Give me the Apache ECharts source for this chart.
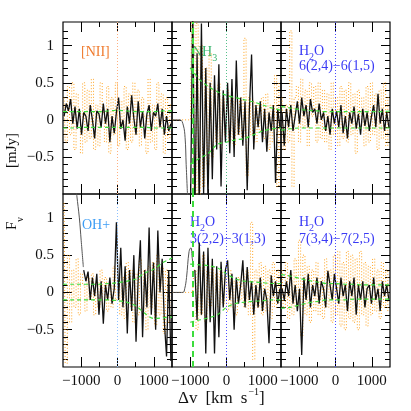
<!DOCTYPE html>
<html>
<head>
<meta charset="utf-8">
<script src="https://cdn.jsdelivr.net/npm/echarts@6/dist/echarts.min.js"></script>
<style>
  html, body { margin: 0; padding: 0; background: #fff; }
  #chart { width: 411px; height: 411px; }
</style>
</head>
<body>
<div id="chart"></div>
<script>
// channel velocities (km/s) shared by every spectrum
const vel = [-1470, -1410, -1350, -1290, -1230, -1170, -1110, -1050, -990, -930,
  -870, -810, -750, -690, -630, -570, -510, -450, -390, -330,
  -270, -210, -150, -90, -30, 30, 90, 150, 210, 270,
  330, 390, 450, 510, 570, 630, 690, 750, 810, 870,
  930, 990, 1050, 1110, 1170, 1230, 1290, 1350, 1410, 1470]
// velocities of the noise envelope (green dashed)
const envVel = [-1500, -1250, -1000, -750, -500, -250, 0, 250, 500, 750, 1000, 1250, 1500]

// [NII] panel
const niiBlack = [0.05, 0.22, 0.12, 0.28, -0.05, 0.18, -0.12, 0.15, -0.2, 0.1,
  0.05, -0.15, 0.2, 0.0, -0.25, 0.12, 0.08, -0.1, 0.22, -0.05,
  0.15, -0.3, 0.05, -0.18, 0.1, 0.3, -0.12, 0.0, -0.28, 0.18,
  -0.05, 0.33, 0.02, -0.2, 0.25, -0.1, 0.12, -0.25, 0.08, 0.2,
  -0.15, 0.1, 0.05, 0.22, -0.1, 0.15, -0.2, 0.05, -0.15, -0.05]
const niiOrange = [0.3, -0.3, 0.45, -0.2, 0.5, -0.4, 0.35, 0.1, -0.45, 0.5,
  -0.3, 0.4, -0.25, 0.55, -0.4, 0.2, -0.35, 0.5, 0.1, -0.3,
  0.45, -0.45, 0.3, -0.2, 0.5, -0.35, 0.25, -0.1, 0.45, -0.4,
  0.35, -0.3, 0.5, -0.2, 0.4, -0.35, 0.3, 0.05, -0.45, 0.55,
  -0.3, 0.2, -0.4, 0.5, -0.1, 0.35, -0.45, 0.3, -0.25, 0.2]
const niiEnvUp = [0.11, 0.11, 0.11, 0.11, 0.11, 0.12, 0.13, 0.12, 0.11, 0.11, 0.11, 0.12, 0.12]
const niiEnvLow = [-0.11, -0.11, -0.1, -0.1, -0.1, -0.1, -0.1, -0.1, -0.1, -0.1, -0.11, -0.11, -0.11]

// NH3 panel
const nh3Black = [null, null, null, null, null, null, null, null, -1.2, 1.5,
  -1.3, 0.9, -1.2, 1.3, -1.0, 0.7, -1.1, 0.5, -0.8, 0.6,
  -0.4, 0.75, -0.9, 0.4, -0.3, 0.5, -0.45, 0.55, -0.5, 0.8,
  -0.2, 0.3, -0.35, 0.25, -0.95, 0.15, 0.88, -0.4, 0.2, -0.1,
  0.25, -0.3, 0.15, -0.43, 0.1, -0.15, 0.2, -0.85, 0.15, -0.1]
const nh3Orange = [0, 0, 0, 0, 0, 0, 0, 0, 0, 1.4,
  -1.2, 1.3, -1.1, 1.0, -0.9, 0.7, -0.6, 0.9, -0.5, 0.4,
  -0.3, 0.5, -0.4, 0.3, -0.2, 0.4, -0.3, 0.3, -0.35, 0.25,
  -0.2, 0.3, -0.25, 1.1, -0.75, 0.3, -0.2, 0.25, -0.3, 0.2,
  -0.15, 0.3, -0.25, 0.35, -0.4, 0.2, -0.3, 0.6, -0.9, 0.5]
const nh3EnvUp = [null, null, 0.7, 0.55, 0.45, 0.38, 0.33, 0.3, 0.27, 0.24, 0.2, 0.16, 0.13]
const nh3EnvLow = [null, null, -0.6, -0.52, -0.45, -0.33, -0.3, -0.27, -0.25, -0.2, -0.15, -0.12, -0.11]
const nh3ModelVel = [-1500, -1280, -1190, -1140, -1110, -1070]
const nh3Model = [0, 0, -0.07, -0.24, -0.6, -1.05]

// H2O 6(2,4)-6(1,5) panel
const h2oABlack = [0.1, -0.35, 0.15, -0.1, 0.2, -0.15, 0.05, 0.25, -0.05, 0.3,
  0.05, 0.2, -0.1, 0.28, 0.1, 0.15, -0.05, 0.22, 0.0, 0.1,
  -0.15, 0.05, -0.2, 0.15, -0.05, 0.12, -0.1, 0.2, -0.18, 0.05,
  -0.25, 0.1, -0.05, 0.18, -0.12, 0.08, -0.2, 0.15, -0.08, 0.1,
  -0.15, 0.05, 0.2, -0.1, 0.35, -0.05, 0.15, -0.15, 0.1, -0.1]
const h2oAOrange = [0.3, -0.4, 0.2, -0.3, 1.2, -0.9, 0.3, 0.45, -0.3, 0.55,
  -0.1, 0.4, -0.35, 0.5, 0.05, 0.45, -0.3, 0.5, -0.25, 0.4,
  -0.3, 0.35, -0.4, 0.5, -0.2, 0.3, -0.35, 0.45, -0.25, 0.4,
  -0.3, 0.5, -0.2, 0.35, -0.45, 0.4, -0.1, 0.3, -0.35, 0.45,
  -0.3, 0.5, -0.2, 0.35, -0.4, 0.4, -0.25, 0.5, -0.35, 0.3]
const h2oAEnvUp = [0.18, 0.16, 0.14, 0.13, 0.12, 0.11, 0.11, 0.11, 0.11, 0.11, 0.11, 0.11, 0.12]
const h2oAEnvLow = [-0.14, -0.12, -0.11, -0.11, -0.11, -0.11, -0.11, -0.11, -0.11, -0.11, -0.11, -0.11, -0.11]

// OH+ panel
const ohBlack = [null, null, null, null, null, null, null, null, null, 0.3,
  0.15, 0.28, -0.1, 0.2, -0.05, 0.25, -0.3, 0.15, -0.42, 0.1,
  -0.1, 0.2, -0.15, 0.05, 0.94, -0.1, 0.6, -0.2, 0.35, -0.55,
  0.3, -0.25, 0.5, -0.66, 0.2, 0.7, -0.6, 0.3, -0.2, 0.87,
  -0.3, 0.4, -0.5, 0.83, 0.0, 0.45, -0.4, -0.86, 0.3, -0.92]
const ohOrange = [1.2, -0.95, 0.5, -0.4, 0.3, -0.2, 0.45, -0.3, 0.25, 0.1,
  -0.25, 0.2, -0.1, 0.25, -0.3, 0.15, -0.2, 0.3, -0.15, 0.2,
  -0.25, 0.1, -0.2, 0.35, -0.1, 0.25, -0.3, 0.2, -0.35, 0.4,
  -0.2, 0.3, -0.4, 0.25, -0.3, 0.45, -0.25, 0.3, -0.5, 0.35,
  -0.2, 0.4, -0.45, 0.5, -0.3, 0.35, -0.55, 0.3, -0.4, 0.2]
const ohEnvUp = [0.11, 0.11, 0.11, 0.11, 0.11, 0.12, 0.13, 0.15, 0.18, 0.26, 0.31, 0.4, 0.46]
const ohEnvLow = [-0.1, -0.1, -0.1, -0.1, -0.1, -0.1, -0.11, -0.13, -0.18, -0.28, -0.35, -0.34, -0.33]
const ohModelVel = [-1140, -1120, -1050, -1000, -940]
const ohModel = [1.4, 1.3, 1.0, 0.7, 0.34]

// H2O 3(2,2)-3(1,3) panel
const h2oBBlack = [null, null, null, null, null, null, null, null, null, null,
  0.3, -0.37, 0.67, -0.3, 0.55, -0.82, 0.6, -0.4, 0.45, -0.82,
  0.35, -0.6, 0.41, -0.2, 0.3, 0.43, -0.1, 0.25, -0.5, 0.2,
  -0.15, 0.1, 0.43, -0.2, 0.34, -0.1, 0.15, -0.3, 0.1, -0.2,
  0.2, -0.25, 0.05, -0.1, -0.68, 0.23, -0.05, 0.15, -0.15, 0.05]
const h2oBOrange = [0, 0, 0, 0, 0, 0, 0, 0, 0, 0,
  0.3, -0.5, 0.4, -0.3, 0.5, -0.4, 0.3, -0.2, 0.35, -0.3,
  0.25, -0.2, 0.3, -0.15, 0.2, -0.25, 0.3, -0.2, 0.15, -0.3,
  0.2, -0.1, 0.25, -0.2, 0.3, -0.3, 0.94, -0.9, 0.3, -0.2,
  0.4, -0.3, 0.35, -0.25, 0.3, -0.35, 0.4, -0.2, 0.3, -0.15]
const h2oBEnvUp = [null, null, 0.38, 0.37, 0.36, 0.33, 0.25, 0.18, 0.15, 0.14, 0.13, 0.12, 0.12]
const h2oBEnvLow = [null, null, -0.4, -0.37, -0.34, -0.3, -0.2, -0.15, -0.13, -0.12, -0.11, -0.1, -0.1]
const h2oBModelVel = [-1500, -1200, -1150, -1100, -1030, -980, -940, -910]
const h2oBModel = [0, 0, 0.05, 0.2, 0.55, 0.6, 0.45, 0.35]

// H2O 7(3,4)-7(2,5) panel
const h2oCBlack = [0.05, -0.1, 0.15, -0.05, 0.3, -0.15, 0.1, -0.25, 0.05, -0.84,
  0.2, -0.1, 0.25, -0.2, 0.1, -0.05, 0.2, -0.15, 0.15, 0.05,
  -0.2, 0.29, 0.1, -0.1, 0.25, 0.05, -0.15, 0.2, -0.05, 0.1,
  -0.25, 0.15, -0.05, 0.2, -0.3, 0.1, -0.1, 0.15, -0.2, 0.05,
  0.1, -0.15, 0.2, -0.1, 0.05, -0.25, 0.15, -0.05, 0.1, -0.1]
const h2oCOrange = [0.3, -0.2, 0.4, -0.35, 0.25, -0.3, 0.45, -0.2, 0.7, -0.6,
  0.5, -0.3, 0.35, -0.4, 0.3, -0.25, 0.4, -0.3, 0.2, -0.35,
  0.45, -0.2, 0.3, -0.4, 0.5, -0.3, 0.55, -0.45, 0.4, -0.5,
  0.55, -0.35, 0.5, -0.4, 0.45, -0.5, 0.55, -0.3, 0.4, -0.45,
  0.35, -0.3, 0.45, -0.25, 0.3, -0.35, 0.4, -0.2, 0.3, -0.25]
const h2oCEnvUp = [0.24, 0.22, 0.19, 0.16, 0.14, 0.12, 0.12, 0.11, 0.11, 0.1, 0.1, 0.1, 0.1]
const h2oCEnvLow = [-0.21, -0.2, -0.17, -0.14, -0.12, -0.1, -0.1, -0.1, -0.09, -0.09, -0.09, -0.09, -0.09]

// tick positions
const xMajor = [-1000, 0, 1000]
const xMinor = [-500, 500]
const yMajor = [-0.5, 0, 0.5, 1]
const yMinor = [-0.9, -0.8, -0.7, -0.6, -0.4, -0.3, -0.2, -0.1, 0.1, 0.2, 0.3, 0.4, 0.6, 0.7, 0.8, 0.9, 1.1, 1.2]

const panels = [
  { black: niiBlack, orange: niiOrange, up: niiEnvUp, low: niiEnvLow, zeroColor: '#ffb080' },
  { black: nh3Black, orange: nh3Orange, up: nh3EnvUp, low: nh3EnvLow, zeroColor: '#55c08a', modelVel: nh3ModelVel, model: nh3Model, feature: -940 },
  { black: h2oABlack, orange: h2oAOrange, up: h2oAEnvUp, low: h2oAEnvLow, zeroColor: '#4a4aff' },
  { black: ohBlack, orange: ohOrange, up: ohEnvUp, low: ohEnvLow, zeroColor: '#8cc0ff', modelVel: ohModelVel, model: ohModel },
  { black: h2oBBlack, orange: h2oBOrange, up: h2oBEnvUp, low: h2oBEnvLow, zeroColor: '#4a4aff', modelVel: h2oBModelVel, model: h2oBModel, feature: -940 },
  { black: h2oCBlack, orange: h2oCOrange, up: h2oCEnvUp, low: h2oCEnvLow, zeroColor: '#4a4aff' }
]

const colLeft = [63, 172, 281]
const rowTop = [22, 194]
const rowHeight = [172, 173]
const font = { fontFamily: 'Liberation Serif', fontSize: 15, color: '#111' }
const minus = v => (v < 0 ? '\u2212' : '') + Math.abs(v)

const pairs = (xs, ys) => xs.map((x, i) => [x, ys[i]])

const grid = []
const xAxis = []
const yAxis = []
const series = []

panels.forEach((p, g) => {
  const col = g % 3
  const row = Math.floor(g / 3)
  grid.push({ left: colLeft[col], top: rowTop[row], width: 109, height: rowHeight[row], show: true, borderColor: '#000', borderWidth: 1.2 })

  const xBase = { gridIndex: g, type: 'value', min: -1500, max: 1500, splitLine: { show: false }, axisLine: { show: false, onZero: false } }
  ;['bottom', 'top'].forEach(pos => {
    xAxis.push({ ...xBase, position: pos,
      axisTick: { inside: true, length: 10, customValues: xMajor, lineStyle: { color: '#000', width: 1 } },
      axisLabel: { show: pos === 'bottom' && row === 1, customValues: xMajor, formatter: minus, margin: 7, ...font } })
    xAxis.push({ ...xBase, position: pos,
      axisTick: { inside: true, length: 5, customValues: xMinor, lineStyle: { color: '#000', width: 1 } },
      axisLabel: { show: false } })
  })

  const yBase = { gridIndex: g, type: 'value', min: -1, max: 1.32, splitLine: { show: false }, axisLine: { show: false, onZero: false } }
  ;['left', 'right'].forEach(pos => {
    yAxis.push({ ...yBase, position: pos,
      axisTick: { inside: true, length: 9, customValues: yMajor, lineStyle: { color: '#000', width: 1 } },
      axisLabel: { show: pos === 'left' && col === 0, customValues: yMajor, formatter: minus, margin: 9, ...font } })
    yAxis.push({ ...yBase, position: pos,
      axisTick: { inside: true, length: 5, customValues: yMinor, lineStyle: { color: '#000', width: 1 } },
      axisLabel: { show: false } })
  })

  const ax = { xAxisIndex: g * 4, yAxisIndex: g * 4 }
  // orange dotted spectrum
  series.push({ ...ax, type: 'line', step: 'middle', showSymbol: false, silent: true,
    data: pairs(vel, p.orange),
    itemStyle: { color: '#ffa423' },
    lineStyle: { color: '#ffa423', width: 1, type: [1, 2] } })
  // black spectrum
  series.push({ ...ax, type: 'line', showSymbol: false, silent: true,
    data: pairs(vel, p.black),
    itemStyle: { color: '#111' },
    lineStyle: { color: '#111', width: 1.3 } })
  // line centre marker
  series.push({ ...ax, type: 'line', silent: true, data: [], z: 1,
    itemStyle: { color: p.zeroColor },
    markLine: { silent: true, symbol: 'none', label: { show: false },
      itemStyle: { color: p.zeroColor },
      lineStyle: { color: p.zeroColor, width: 1, type: [1, 2], opacity: 1 }, data: [{ xAxis: 0 }] } })
  // noise envelope
  const env = { ...ax, type: 'line', showSymbol: false, silent: true, smooth: 0.3,
    itemStyle: { color: '#3ddc3d' },
    lineStyle: { color: '#3ddc3d', width: 1.2, type: [4, 3] } }
  series.push({ ...env, data: pairs(envVel, p.up),
    markLine: p.feature === undefined ? undefined : { silent: true, symbol: 'none', label: { show: false },
      itemStyle: { color: '#3ddc3d' },
      lineStyle: { color: '#3ddc3d', width: 2, type: [6, 4] }, data: [{ xAxis: p.feature }] } })
  series.push({ ...env, data: pairs(envVel, p.low) })
  // neighbouring line model
  if (p.model) {
    series.push({ ...ax, type: 'line', showSymbol: false, silent: true, smooth: 0.4,
      data: pairs(p.modelVel, p.model),
      itemStyle: { color: '#555' },
      lineStyle: { color: '#555', width: 1 } })
  }
})

const sub = { fontFamily: 'Liberation Serif', fontSize: 10, verticalAlign: 'bottom', padding: [0, 0, -4, 0] }
const lbl = (x, y, text, color) => ({ type: 'text', left: x, top: y, silent: true,
  style: { text, fill: color, fontFamily: 'Liberation Serif', fontSize: 14 } })
const h2oRich = { s: { ...sub, fill: '#3a3af5' }, b: { fill: '#3a3af5', fontFamily: 'Liberation Serif', fontSize: 14 } }
const titleRich = { b: { fill: '#111', fontFamily: 'Liberation Serif', fontSize: 17 },
  g: { fill: '#111', fontFamily: 'Liberation Serif', fontSize: 17, padding: [0, 0, 0, 8] },
  p: { fill: '#111', fontFamily: 'Liberation Serif', fontSize: 10, verticalAlign: 'top', padding: [-3, 0, 0, 1] } }
const yTitleRich = { b: { fill: '#111', fontFamily: 'Liberation Serif', fontSize: 15 },
  s: { fill: '#111', fontFamily: 'Liberation Serif', fontSize: 10, verticalAlign: 'bottom', padding: [0, 0, -5, 0] } }

const graphic = [
  lbl(81, 45, '[NII]', '#f07b2e'),
  { type: 'text', left: 192, top: 45, silent: true,
    style: { text: '{b|NH}{s|3}', rich: { b: { fill: '#33b36a', fontFamily: 'Liberation Serif', fontSize: 14 }, s: { ...sub, fill: '#33b36a' } } } },
  { type: 'text', left: 299, top: 44, silent: true, style: { text: '{b|H}{s|2}{b|O}', rich: h2oRich } },
  lbl(299, 59, '6(2,4)\u22126(1,5)', '#3a3af5'),
  lbl(82, 218, 'OH+', '#3d9df5'),
  { type: 'text', left: 190, top: 215, silent: true, style: { text: '{b|H}{s|2}{b|O}', rich: h2oRich } },
  lbl(190, 232, '3(2,2)\u22123(1,3)', '#3a3af5'),
  { type: 'text', left: 299, top: 215, silent: true, style: { text: '{b|H}{s|2}{b|O}', rich: h2oRich } },
  lbl(299, 232, '7(3,4)\u22127(2,5)', '#3a3af5'),
  // axis titles
  { type: 'text', left: 178, top: 387, silent: true,
    style: { text: '{b|\u0394v}{g|[km}{g|s}{p|\u22121}{b|]}', rich: titleRich } },
  { type: 'text', x: 5, y: 230, rotation: Math.PI / 2, silent: true,
    style: { text: '{b|F}{s|\u03bd}', rich: yTitleRich } },
  { type: 'text', x: 5, y: 168, rotation: Math.PI / 2, silent: true,
    style: { text: '{b|[mJy]}', rich: yTitleRich } }
]

const chart = echarts.init(document.getElementById('chart'))
chart.setOption({
  animation: false,
  backgroundColor: '#fff',
  grid,
  xAxis,
  yAxis,
  series,
  graphic
})
</script>
</body>
</html>
